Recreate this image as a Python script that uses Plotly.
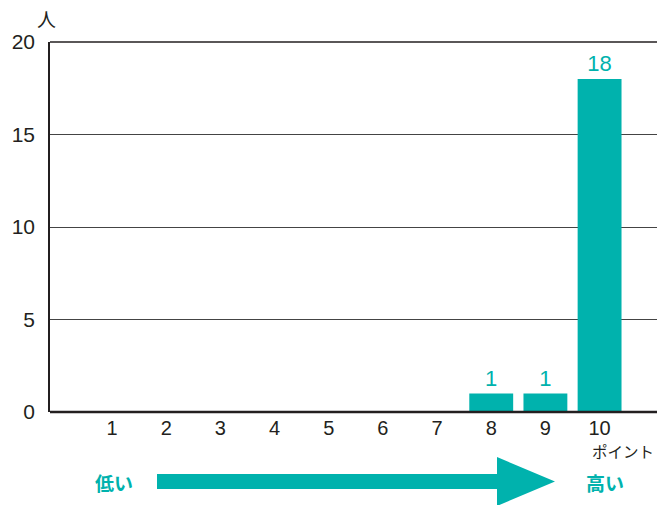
import plotly.graph_objects as go

categories = [1, 2, 3, 4, 5, 6, 7, 8, 9, 10]
counts = [0, 0, 0, 0, 0, 0, 0, 1, 1, 18]
y_ticks = [0, 5, 10, 15, 20]

TEAL = "#00b2ad"
DARK = "#231f20"
L, R, T, B = 50, 13, 42, 93
W, H = 670, 505
pw = W - L - R
ph = H - T - B

def px(x):
    return (x - L) / pw

def py(y):
    return (H - B - y) / ph

labels = [str(v) if v else "" for v in counts]

fig = go.Figure()
fig.add_trace(go.Bar(
    x=categories, y=counts, width=0.81,
    marker=dict(color=TEAL, line=dict(width=0)),
    text=labels, textposition="outside", cliponaxis=False,
    textfont=dict(family="Liberation Sans, Arial, sans-serif", size=22, color=TEAL),
))

fig.update_layout(
    width=W, height=H, margin=dict(l=L, r=R, t=T, b=B),
    paper_bgcolor="white", plot_bgcolor="white", showlegend=False,
    font=dict(family="Liberation Sans, Arial, sans-serif", color=DARK),
    xaxis=dict(range=[-0.145, 11.06], tickvals=categories, ticktext=[str(c) for c in categories],
               showgrid=False, zeroline=False, showline=False,
               tickfont=dict(size=20, color=DARK), ticks="", ticklabelstandoff=2),
    yaxis=dict(range=[0, 20], tickvals=y_ticks, showgrid=True, gridcolor="#444444", gridwidth=1,
               zeroline=False, showline=True, linecolor=DARK, linewidth=1.5,
               tickfont=dict(size=21, color=DARK), ticks="", ticklabelstandoff=9),
)

shapes = []
shapes.append(dict(type="line", xref="paper", yref="paper", x0=0, x1=1, y0=1, y1=1,
                   line=dict(color=DARK, width=1.5)))
shapes.append(dict(type="line", xref="paper", yref="paper", x0=0, x1=1, y0=0, y1=0,
                   line=dict(color=DARK, width=2.5)))
x0, xb, xt = px(157), px(497), px(555)
yc = py(481.5)
bh = 7.5 / ph
hh = 24.5 / ph
path = (f"M {x0},{yc+bh} L {xb},{yc+bh} L {xb},{yc+hh} L {xt},{yc} "
        f"L {xb},{yc-hh} L {xb},{yc-bh} L {x0},{yc-bh} Z")
shapes.append(dict(type="path", xref="paper", yref="paper", path=path,
                   fillcolor=TEAL, line=dict(width=0)))
fig.update_layout(shapes=shapes)

JP = "Noto Sans CJK JP, sans-serif"
fig.add_annotation(text="人", xref="paper", yref="paper", x=px(46), y=py(18), showarrow=False,
                   font=dict(family=JP, size=19, color=DARK), xanchor="center", yanchor="middle")
fig.add_annotation(text="ポイント", xref="paper", yref="paper", x=px(623), y=py(451), showarrow=False,
                   font=dict(family=JP, size=15.5, color=DARK), xanchor="center", yanchor="middle")
fig.add_annotation(text="<b>低い</b>", xref="paper", yref="paper", x=px(114), y=py(482), showarrow=False,
                   font=dict(family=JP, size=19, color=TEAL), xanchor="center", yanchor="middle")
fig.add_annotation(text="<b>高い</b>", xref="paper", yref="paper", x=px(605), y=py(482), showarrow=False,
                   font=dict(family=JP, size=19, color=TEAL), xanchor="center", yanchor="middle")

fig.write_html("out.html")
